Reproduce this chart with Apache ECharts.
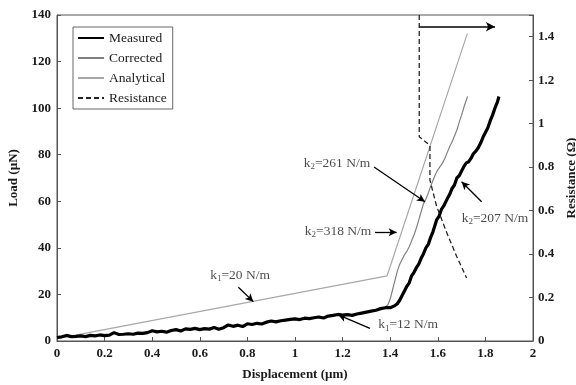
<!DOCTYPE html>
<html><head><meta charset="utf-8">
<script src="https://cdn.jsdelivr.net/npm/echarts@6/dist/echarts.min.js"></script>
<style>html,body{margin:0;padding:0;background:#fff}#c{width:576px;height:385px}</style>
</head><body><div id="c"></div>
<script>
// ---- data ----
const measured = [
[0.00,1.5],[0.02,1.8],[0.04,2.4],[0.06,1.9],[0.08,2.0],[0.10,2.2],[0.12,1.9],[0.14,2.4],[0.16,2.2],[0.18,2.6],
[0.20,2.3],[0.22,2.5],[0.24,3.6],[0.26,2.8],[0.28,2.9],[0.30,3.1],[0.32,2.9],[0.34,3.4],[0.36,3.3],[0.38,3.6],
[0.40,4.4],[0.42,3.9],[0.44,4.2],[0.46,3.8],[0.48,4.5],[0.50,4.9],[0.52,4.3],[0.54,5.2],[0.56,5.0],[0.58,5.4],
[0.60,4.9],[0.62,5.3],[0.64,5.1],[0.66,5.8],[0.68,5.0],[0.70,5.7],[0.72,6.9],[0.74,6.3],[0.76,6.8],[0.78,6.2],
[0.80,7.4],[0.82,7.1],[0.84,7.6],[0.86,7.3],[0.88,8.1],[0.90,8.6],[0.92,8.2],[0.94,8.7],[0.96,9.0],[0.98,9.3],
[1.00,9.5],[1.02,9.2],[1.04,9.8],[1.06,9.6],[1.08,10.0],[1.10,10.3],[1.12,9.9],[1.14,10.7],[1.16,11.0],[1.18,11.4],
[1.20,11.1],[1.22,11.3],[1.24,11.0],[1.26,11.6],[1.28,12.0],[1.30,12.4],[1.32,12.8],[1.34,13.2],[1.36,13.9],[1.38,14.3],
[1.40,14.3],[1.42,15.2],[1.43,16.0],[1.44,17.5],[1.45,19.5],[1.46,21.5],[1.47,23.5],[1.48,25.0],[1.49,28.0],[1.50,29.5],
[1.51,31.5],[1.52,33.0],[1.53,35.5],[1.54,37.5],[1.55,40.0],[1.56,41.5],[1.57,44.5],[1.58,47.0],[1.595,52.0],[1.605,53.5],
[1.615,56.5],[1.625,58.0],[1.637,60.5],[1.65,63.0],[1.66,65.5],[1.67,67.0],[1.68,70.0],[1.69,71.0],[1.70,73.0],[1.71,75.0],
[1.72,76.5],[1.73,77.0],[1.74,78.5],[1.75,80.5],[1.76,81.5],[1.77,83.0],[1.78,85.0],[1.79,87.5],[1.80,89.5],[1.81,91.5],
[1.82,94.5],[1.83,97.0],[1.84,100.0],[1.85,102.5],[1.857,105.0]
];
const corrected = [
[1.38,14.5],[1.39,15.5],[1.40,18.0],[1.41,22.0],[1.42,26.0],[1.43,30.0],[1.44,33.0],[1.45,35.0],[1.46,37.0],[1.47,38.5],
[1.48,40.5],[1.49,43.0],[1.50,45.5],[1.51,48.5],[1.52,52.0],[1.53,55.5],[1.54,59.0],[1.55,61.0],[1.56,63.5],[1.57,66.5],
[1.58,69.0],[1.59,71.5],[1.60,73.5],[1.61,75.0],[1.62,76.5],[1.63,78.5],[1.64,81.0],[1.65,83.5],[1.66,85.5],[1.67,88.0],
[1.68,90.5],[1.69,94.0],[1.70,97.0],[1.71,100.5],[1.72,103.5],[1.725,105.0]
];
const analytical = [[0,1],[1.387,28],[1.724,132]];
const resistance = [[1.522,1.5],[1.522,0.94],[1.567,0.90],[1.567,0.74],[1.595,0.62],[1.637,0.50],[1.679,0.39],[1.721,0.29]];
const resistanceArrow = [[1.522,1.446],[1.84,1.446]];
const xTicks = {min:0, max:2, interval:0.2};
const yLeftTicks = {min:0, max:140, interval:20};
const yRightTicks = {min:0, max:1.5, interval:0.2};
// annotations: [x, y, subscript, rest]
const annoText = [
[0.769,28.3,'1','=20 N/m'],
[1.475,6.9,'1','=12 N/m'],
[1.181,47.2,'2','=318 N/m'],
[1.176,76.4,'2','=261 N/m'],
[1.84,52.8,'2','=207 N/m']
];
const annoArrows = [
[[0.762,23.1],[0.825,16.9]],
[[1.315,5.45],[1.182,11.2]],
[[1.336,46.7],[1.427,46.7]],
[[1.332,74.7],[1.546,59.8]],
[[1.784,59.8],[1.70,68.4]]
];

const FONT = 'Liberation Serif';
const TXT = '#1a1a1a';
const AX = '#555';
const chart = echarts.init(document.getElementById('c'), null, {renderer:'canvas'});
const axisCommon = {
  axisLine:{show:true,lineStyle:{color:AX,width:1}},
  axisTick:{show:true,inside:true,length:4,lineStyle:{color:AX}},
  splitLine:{show:false},
  axisLabel:{color:TXT,fontFamily:FONT,fontSize:13,fontWeight:'bold'},
  nameTextStyle:{color:TXT,fontFamily:FONT,fontSize:13,fontWeight:'bold'}
};
chart.setOption({
  animation:false,
  backgroundColor:'#fff',
  grid:{left:57,right:43,top:15,bottom:44,show:true,borderColor:AX,borderWidth:1,backgroundColor:'transparent',
        outerBoundsMode:'none',containLabel:false},
  legend:{
    orient:'vertical',left:73,top:27,
    data:['Measured','Corrected','Analytical','Resistance'],
    itemWidth:26,itemHeight:14,itemGap:6,
    padding:[4,6,4,4],
    borderColor:'#666',borderWidth:1,
    itemStyle:{opacity:0,borderWidth:0},
    textStyle:{color:TXT,fontFamily:FONT,fontSize:13.5},
    backgroundColor:'#fff'
  },
  xAxis:Object.assign({},axisCommon,{
    type:'value',min:xTicks.min,max:xTicks.max,interval:xTicks.interval,
    name:'Displacement (µm)',nameLocation:'middle',nameGap:27,
    axisLabel:Object.assign({},axisCommon.axisLabel,{margin:6})
  }),
  yAxis:[
    Object.assign({},axisCommon,{
      type:'value',min:yLeftTicks.min,max:yLeftTicks.max,interval:yLeftTicks.interval,
      name:'Load (µN)',nameLocation:'middle',nameGap:36,nameRotate:90,
      axisLabel:Object.assign({},axisCommon.axisLabel,{margin:6})
    }),
    Object.assign({},axisCommon,{
      type:'value',position:'right',min:yRightTicks.min,max:yRightTicks.max,interval:yRightTicks.interval,
      name:'Resistance (Ω)',nameLocation:'middle',nameGap:30,nameRotate:90,
      axisLabel:Object.assign({},axisCommon.axisLabel,{margin:5,
        formatter:function(v){return v>1.45?'':String(+v.toFixed(1));}})
    })
  ],
  series:[
    {name:'Analytical',type:'line',data:analytical,symbol:'none',
     lineStyle:{color:'#a8a8a8',width:1.2},itemStyle:{color:'#a8a8a8'},z:2},
    {name:'Corrected',type:'line',data:corrected,symbol:'none',
     lineStyle:{color:'#808080',width:1.2},itemStyle:{color:'#808080'},z:3},
    {name:'Measured',type:'line',data:measured,symbol:'none',
     lineStyle:{color:'#000',width:3.2},itemStyle:{color:'#000'},z:4},
    {name:'Resistance',type:'line',yAxisIndex:1,data:resistance,symbol:'none',
     lineStyle:{color:'#222',width:1.3,type:[5,3]},itemStyle:{color:'#222'},z:5,
     markLine:{silent:true,symbol:['none','arrow'],symbolSize:[7,9],animation:false,
       label:{show:false},lineStyle:{color:'#000',width:1.5,type:'solid'},
       data:[[{coord:resistanceArrow[0]},{coord:resistanceArrow[1]}]]}},
    {name:'annotations',type:'scatter',data:annoText.map(a=>[a[0],a[1],a[2],a[3]]),
     symbolSize:0,z:10,
     label:{show:true,position:'inside',
       formatter:function(p){return '{k|k}{s|'+p.data[2]+'}{k|'+p.data[3]+'}';},
       rich:{k:{fontFamily:FONT,fontSize:13.5,color:TXT},
             s:{fontFamily:FONT,fontSize:9,color:TXT,padding:[7,0,0,0]}}},
     markLine:{silent:true,symbol:['none','arrow'],symbolSize:[6,8],animation:false,
       label:{show:false},lineStyle:{color:'#000',width:1.3,type:'solid'},
       data:annoArrows.map(a=>[{coord:a[0]},{coord:a[1]}])}}
  ]
});
</script></body></html>
